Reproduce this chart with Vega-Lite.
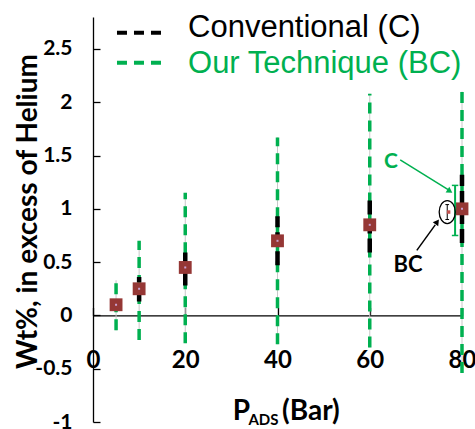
{
  "$schema": "https://vega.github.io/schema/vega-lite/v6.json",
  "width": 369,
  "height": 405,
  "autosize": {"type": "none"},
  "padding": {"left": 93, "top": 17, "right": 13, "bottom": 7},
  "background": "white",
  "config": {"view": {"stroke": null}, "font": "Lato"},
  "datasets": {
    "pts": [
      {"p": 5, "wt": 0.1, "c_lo": 0.05, "c_hi": 0.15, "bc_lo": -0.14, "bc_hi": 0.33},
      {"p": 10, "wt": 0.25, "c_lo": 0.13, "c_hi": 0.36, "bc_lo": -0.23, "bc_hi": 0.70},
      {"p": 20, "wt": 0.45, "c_lo": 0.28, "c_hi": 0.62, "bc_lo": -0.26, "bc_hi": 1.15},
      {"p": 40, "wt": 0.70, "c_lo": 0.47, "c_hi": 0.93, "bc_lo": -0.27, "bc_hi": 1.67},
      {"p": 60, "wt": 0.85, "c_lo": 0.59, "c_hi": 1.10, "bc_lo": -0.30, "bc_hi": 2.08},
      {"p": 80, "wt": 1.00, "c_lo": 0.68, "c_hi": 1.32, "bc_lo": -0.54, "bc_hi": 2.10}
    ],
    "one": [{}]
  },
  "layer": [
    {
      "data": {"name": "pts"},
      "mark": {"type": "rule", "stroke": "#c8c8c8", "strokeWidth": 1},
      "encoding": {
        "x": {"field": "p", "type": "quantitative",
          "scale": {"domain": [0, 80], "nice": false, "zero": false},
          "axis": {"values": [0, 20, 40, 60, 80], "offset": -106.6, "tickSize": -8, "tickColor": "black", "tickWidth": 1.3,
            "domainColor": "black", "domainWidth": 1.3, "grid": false, "title": null,
            "labelFont": "Lato", "labelFontWeight": "bold", "labelFontSize": 24, "labelColor": "black",
            "labelPadding": 41, "labelFlush": false, "labelOverlap": false}},
        "y": {"field": "bc_lo", "type": "quantitative",
          "scale": {"domain": [-1, 2.8], "nice": false, "zero": false},
          "axis": {"values": [-1, -0.5, 0, 0.5, 1, 1.5, 2, 2.5], "labelExpr": "'' + datum.value",
            "tickSize": -7, "tickColor": "black", "tickWidth": 1.3, "domainColor": "black", "domainWidth": 1.3,
            "grid": false, "labelFont": "Lato", "labelFontWeight": "bold", "labelFontSize": 21, "labelColor": "black",
            "labelPadding": 28, "labelOverlap": false, "labelFlush": false,
            "title": "Wt%, in excess of Helium", "titleFont": "Lato", "titleFontWeight": "bold", "titleFontSize": 28,
            "titleColor": "black", "titleAngle": 270, "titleX": -57, "titleY": 194, "titleAlign": "center", "titleBaseline": "alphabetic"}},
        "y2": {"field": "bc_hi"}
      }
    },
    {
      "data": {"name": "pts"},
      "mark": {"type": "rule", "stroke": "#00B050", "strokeWidth": 3.5, "strokeDash": [11, 7]},
      "encoding": {
        "x": {"field": "p", "type": "quantitative"},
        "y": {"field": "bc_lo", "type": "quantitative"},
        "y2": {"field": "bc_hi"}
      }
    },
    {
      "data": {"name": "pts"},
      "mark": {"type": "rule", "stroke": "black", "strokeWidth": 4.5, "strokeDash": [14, 5]},
      "encoding": {
        "x": {"field": "p", "type": "quantitative"},
        "y": {"field": "c_lo", "type": "quantitative"},
        "y2": {"field": "c_hi"}
      }
    },
    {
      "data": {"name": "pts"},
      "mark": {"type": "square", "size": 165, "color": "#953735", "opacity": 1},
      "encoding": {
        "x": {"field": "p", "type": "quantitative"},
        "y": {"field": "wt", "type": "quantitative"}
      }
    },
    {
      "data": {"name": "pts"},
      "mark": {"type": "square", "size": 4, "color": "#c9a0d0", "opacity": 1},
      "encoding": {
        "x": {"field": "p", "type": "quantitative"},
        "y": {"field": "wt", "type": "quantitative"}
      }
    },
    {
      "data": {"name": "one"},
      "mark": {"type": "rule", "stroke": "black", "strokeWidth": 4, "strokeDash": [10, 7]},
      "encoding": {"x": {"datum": 5.2, "type": "quantitative"}, "x2": {"datum": 15.2}, "y": {"datum": 2.652, "type": "quantitative"}}
    },
    {
      "data": {"name": "one"},
      "mark": {"type": "rule", "stroke": "#00B050", "strokeWidth": 4, "strokeDash": [10, 7]},
      "encoding": {"x": {"datum": 5.2, "type": "quantitative"}, "x2": {"datum": 15.2}, "y": {"datum": 2.37, "type": "quantitative"}}
    },
    {
      "data": {"name": "one"},
      "mark": {"type": "text", "text": "Conventional (C)", "font": "Liberation Sans", "fontSize": 31, "color": "black", "align": "left", "baseline": "alphabetic"},
      "encoding": {"x": {"datum": 20.6, "type": "quantitative"}, "y": {"datum": 2.614, "type": "quantitative"}}
    },
    {
      "data": {"name": "one"},
      "mark": {"type": "text", "text": "Our Technique (BC)", "font": "Liberation Sans", "fontSize": 31, "color": "#00B050", "align": "left", "baseline": "alphabetic"},
      "encoding": {"x": {"datum": 20.6, "type": "quantitative"}, "y": {"datum": 2.275, "type": "quantitative"}}
    },
    {
      "data": {"name": "one"},
      "mark": {"type": "text", "text": "P", "font": "Lato", "fontWeight": "bold", "fontSize": 28, "color": "black", "align": "left", "baseline": "alphabetic"},
      "encoding": {"x": {"datum": 30.3, "type": "quantitative"}, "y": {"datum": -0.98, "type": "quantitative"}}
    },
    {
      "data": {"name": "one"},
      "mark": {"type": "text", "text": "ADS", "font": "Lato", "fontWeight": "bold", "fontSize": 15, "color": "black", "align": "left", "baseline": "alphabetic"},
      "encoding": {"x": {"datum": 33.7, "type": "quantitative"}, "y": {"datum": -1.03, "type": "quantitative"}}
    },
    {
      "data": {"name": "one"},
      "mark": {"type": "text", "text": "(Bar)", "font": "Lato", "fontWeight": "bold", "fontSize": 28, "color": "black", "align": "left", "baseline": "alphabetic"},
      "encoding": {"x": {"datum": 41.0, "type": "quantitative"}, "y": {"datum": -0.98, "type": "quantitative"}}
    },
    {
      "data": {"name": "one"},
      "mark": {"type": "rule", "stroke": "#00B050", "strokeWidth": 2},
      "encoding": {"x": {"datum": 78.5, "type": "quantitative"}, "y": {"datum": 0.75, "type": "quantitative"}, "y2": {"datum": 1.22}}
    },
    {
      "data": {"name": "one"},
      "mark": {"type": "rule", "stroke": "#00B050", "strokeWidth": 1.5},
      "encoding": {"x": {"datum": 77.8, "type": "quantitative"}, "x2": {"datum": 79.2}, "y": {"datum": 1.22, "type": "quantitative"}}
    },
    {
      "data": {"name": "one"},
      "mark": {"type": "rule", "stroke": "#00B050", "strokeWidth": 1.5},
      "encoding": {"x": {"datum": 77.8, "type": "quantitative"}, "x2": {"datum": 79.2}, "y": {"datum": 0.75, "type": "quantitative"}}
    },
    {
      "data": {"name": "one"},
      "mark": {"type": "point", "shape": "M -0.7 0 A 0.7 1 0 1 0 0.7 0 A 0.7 1 0 1 0 -0.7 0 Z", "size": 529, "filled": false, "stroke": "black", "strokeWidth": 1.3, "opacity": 1},
      "encoding": {"x": {"datum": 76.8, "type": "quantitative"}, "y": {"datum": 0.97, "type": "quantitative"}}
    },
    {
      "data": {"name": "one"},
      "mark": {"type": "rule", "stroke": "black", "strokeWidth": 1},
      "encoding": {"x": {"datum": 76.8, "type": "quantitative"}, "y": {"datum": 0.9, "type": "quantitative"}, "y2": {"datum": 1.04}}
    },
    {
      "data": {"name": "one"},
      "mark": {"type": "rule", "stroke": "black", "strokeWidth": 1},
      "encoding": {"x": {"datum": 76.4, "type": "quantitative"}, "x2": {"datum": 77.2}, "y": {"datum": 1.04, "type": "quantitative"}}
    },
    {
      "data": {"name": "one"},
      "mark": {"type": "rule", "stroke": "black", "strokeWidth": 1},
      "encoding": {"x": {"datum": 76.4, "type": "quantitative"}, "x2": {"datum": 77.2}, "y": {"datum": 0.9, "type": "quantitative"}}
    },
    {
      "data": {"name": "one"},
      "mark": {"type": "square", "size": 12, "color": "#c0504d", "opacity": 1},
      "encoding": {"x": {"datum": 77.1, "type": "quantitative"}, "y": {"datum": 0.97, "type": "quantitative"}}
    },
    {
      "data": {"name": "one"},
      "mark": {"type": "text", "text": "C", "font": "Lato", "fontWeight": "bold", "fontSize": 21, "color": "#00B050", "align": "center", "baseline": "middle"},
      "encoding": {"x": {"datum": 64.6, "type": "quantitative"}, "y": {"datum": 1.44, "type": "quantitative"}}
    },
    {
      "data": {"name": "one"},
      "mark": {"type": "rule", "stroke": "#00B050", "strokeWidth": 1.5},
      "encoding": {"x": {"datum": 66.6, "type": "quantitative"}, "x2": {"datum": 77.0}, "y": {"datum": 1.46, "type": "quantitative"}, "y2": {"datum": 1.18}}
    },
    {
      "data": {"name": "one"},
      "mark": {"type": "point", "shape": "triangle", "size": 45, "filled": true, "color": "#00B050", "opacity": 1, "angle": 123},
      "encoding": {"x": {"datum": 77.2, "type": "quantitative"}, "y": {"datum": 1.17, "type": "quantitative"}}
    },
    {
      "data": {"name": "one"},
      "mark": {"type": "text", "text": "BC", "font": "Lato", "fontWeight": "bold", "fontSize": 22, "color": "black", "align": "center", "baseline": "middle"},
      "encoding": {"x": {"datum": 68.3, "type": "quantitative"}, "y": {"datum": 0.47, "type": "quantitative"}}
    },
    {
      "data": {"name": "one"},
      "mark": {"type": "rule", "stroke": "black", "strokeWidth": 1.5},
      "encoding": {"x": {"datum": 70.2, "type": "quantitative"}, "x2": {"datum": 74.2}, "y": {"datum": 0.61, "type": "quantitative"}, "y2": {"datum": 0.85}}
    },
    {
      "data": {"name": "one"},
      "mark": {"type": "point", "shape": "triangle", "size": 45, "filled": true, "color": "black", "opacity": 1, "angle": 36},
      "encoding": {"x": {"datum": 74.5, "type": "quantitative"}, "y": {"datum": 0.87, "type": "quantitative"}}
    }
  ]
}
